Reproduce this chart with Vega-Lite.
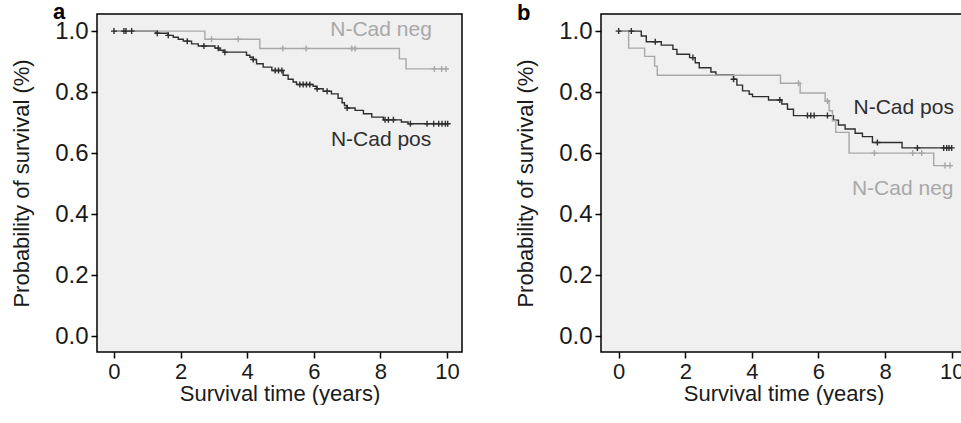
{
  "$schema": "https://vega.github.io/schema/vega-lite/v6.json",
  "padding": {"left": 9, "top": 0, "right": 0, "bottom": 0},
  "spacing": 50,
  "config": {
    "font": "Liberation Sans",
    "view": {"fill": "#f0f0f0", "stroke": "#000000", "strokeWidth": 1.5},
    "axis": {
      "domain": false, "grid": false, "tickColor": "#000000", "tickSize": 6, "tickWidth": 1.5,
      "labelFont": "Liberation Sans", "labelFontSize": 22, "labelColor": "#1a1a1a", "labelPadding": 3,
      "titleFont": "Liberation Sans", "titleFontSize": 22, "titleFontWeight": "normal", "titleColor": "#1a1a1a"
    },
    "axisY": {"labelFontSize": 24, "titlePadding": 21},
    "axisX": {"titlePadding": 1}
  },
  "datasets": {
    "steps": [
      {"panel": "a", "group": "N-Cad pos", "t": 0, "s": 1.0},
      {"panel": "a", "group": "N-Cad pos", "t": 1.26, "s": 0.993},
      {"panel": "a", "group": "N-Cad pos", "t": 1.63, "s": 0.986},
      {"panel": "a", "group": "N-Cad pos", "t": 1.78, "s": 0.980},
      {"panel": "a", "group": "N-Cad pos", "t": 1.93, "s": 0.973},
      {"panel": "a", "group": "N-Cad pos", "t": 2.08, "s": 0.967},
      {"panel": "a", "group": "N-Cad pos", "t": 2.33, "s": 0.958},
      {"panel": "a", "group": "N-Cad pos", "t": 2.53, "s": 0.951},
      {"panel": "a", "group": "N-Cad pos", "t": 3.03, "s": 0.944},
      {"panel": "a", "group": "N-Cad pos", "t": 3.18, "s": 0.937},
      {"panel": "a", "group": "N-Cad pos", "t": 3.3, "s": 0.931},
      {"panel": "a", "group": "N-Cad pos", "t": 3.98, "s": 0.921},
      {"panel": "a", "group": "N-Cad pos", "t": 4.08, "s": 0.914},
      {"panel": "a", "group": "N-Cad pos", "t": 4.18, "s": 0.907},
      {"panel": "a", "group": "N-Cad pos", "t": 4.28, "s": 0.893},
      {"panel": "a", "group": "N-Cad pos", "t": 4.48, "s": 0.882},
      {"panel": "a", "group": "N-Cad pos", "t": 4.74, "s": 0.871},
      {"panel": "a", "group": "N-Cad pos", "t": 5.08, "s": 0.855},
      {"panel": "a", "group": "N-Cad pos", "t": 5.23, "s": 0.842},
      {"panel": "a", "group": "N-Cad pos", "t": 5.38, "s": 0.833},
      {"panel": "a", "group": "N-Cad pos", "t": 5.48, "s": 0.825},
      {"panel": "a", "group": "N-Cad pos", "t": 5.98, "s": 0.819},
      {"panel": "a", "group": "N-Cad pos", "t": 6.08, "s": 0.811},
      {"panel": "a", "group": "N-Cad pos", "t": 6.28, "s": 0.803},
      {"panel": "a", "group": "N-Cad pos", "t": 6.53, "s": 0.794},
      {"panel": "a", "group": "N-Cad pos", "t": 6.73, "s": 0.780},
      {"panel": "a", "group": "N-Cad pos", "t": 6.85, "s": 0.765},
      {"panel": "a", "group": "N-Cad pos", "t": 6.92, "s": 0.756},
      {"panel": "a", "group": "N-Cad pos", "t": 7.0, "s": 0.748},
      {"panel": "a", "group": "N-Cad pos", "t": 7.24, "s": 0.740},
      {"panel": "a", "group": "N-Cad pos", "t": 7.49, "s": 0.729},
      {"panel": "a", "group": "N-Cad pos", "t": 7.74, "s": 0.718},
      {"panel": "a", "group": "N-Cad pos", "t": 8.09, "s": 0.709},
      {"panel": "a", "group": "N-Cad pos", "t": 8.63, "s": 0.702},
      {"panel": "a", "group": "N-Cad pos", "t": 8.83, "s": 0.696},
      {"panel": "a", "group": "N-Cad pos", "t": 10.04, "s": 0.696},
      {"panel": "a", "group": "N-Cad neg", "t": 0, "s": 1.0},
      {"panel": "a", "group": "N-Cad neg", "t": 2.73, "s": 0.973},
      {"panel": "a", "group": "N-Cad neg", "t": 4.38, "s": 0.943},
      {"panel": "a", "group": "N-Cad neg", "t": 8.57, "s": 0.909},
      {"panel": "a", "group": "N-Cad neg", "t": 8.77, "s": 0.876},
      {"panel": "a", "group": "N-Cad neg", "t": 10.04, "s": 0.876},
      {"panel": "b", "group": "N-Cad pos", "t": 0, "s": 1.0},
      {"panel": "b", "group": "N-Cad pos", "t": 0.68, "s": 0.984},
      {"panel": "b", "group": "N-Cad pos", "t": 0.83, "s": 0.965},
      {"panel": "b", "group": "N-Cad pos", "t": 1.28, "s": 0.954},
      {"panel": "b", "group": "N-Cad pos", "t": 1.63, "s": 0.940},
      {"panel": "b", "group": "N-Cad pos", "t": 1.75, "s": 0.924},
      {"panel": "b", "group": "N-Cad pos", "t": 2.13, "s": 0.913},
      {"panel": "b", "group": "N-Cad pos", "t": 2.3, "s": 0.896},
      {"panel": "b", "group": "N-Cad pos", "t": 2.42, "s": 0.880},
      {"panel": "b", "group": "N-Cad pos", "t": 2.77, "s": 0.866},
      {"panel": "b", "group": "N-Cad pos", "t": 2.92, "s": 0.856},
      {"panel": "b", "group": "N-Cad pos", "t": 3.45, "s": 0.842},
      {"panel": "b", "group": "N-Cad pos", "t": 3.55, "s": 0.823},
      {"panel": "b", "group": "N-Cad pos", "t": 3.72, "s": 0.804},
      {"panel": "b", "group": "N-Cad pos", "t": 3.92, "s": 0.793},
      {"panel": "b", "group": "N-Cad pos", "t": 4.02, "s": 0.785},
      {"panel": "b", "group": "N-Cad pos", "t": 4.5, "s": 0.774},
      {"panel": "b", "group": "N-Cad pos", "t": 4.9, "s": 0.761},
      {"panel": "b", "group": "N-Cad pos", "t": 5.07, "s": 0.744},
      {"panel": "b", "group": "N-Cad pos", "t": 5.25, "s": 0.723},
      {"panel": "b", "group": "N-Cad pos", "t": 6.45, "s": 0.708},
      {"panel": "b", "group": "N-Cad pos", "t": 6.6, "s": 0.692},
      {"panel": "b", "group": "N-Cad pos", "t": 6.8, "s": 0.679},
      {"panel": "b", "group": "N-Cad pos", "t": 7.1, "s": 0.665},
      {"panel": "b", "group": "N-Cad pos", "t": 7.32, "s": 0.654},
      {"panel": "b", "group": "N-Cad pos", "t": 7.62, "s": 0.635},
      {"panel": "b", "group": "N-Cad pos", "t": 8.51, "s": 0.617},
      {"panel": "b", "group": "N-Cad pos", "t": 10.0, "s": 0.617},
      {"panel": "b", "group": "N-Cad neg", "t": 0, "s": 1.0},
      {"panel": "b", "group": "N-Cad neg", "t": 0.30, "s": 0.944},
      {"panel": "b", "group": "N-Cad neg", "t": 0.78, "s": 0.917},
      {"panel": "b", "group": "N-Cad neg", "t": 1.08, "s": 0.885},
      {"panel": "b", "group": "N-Cad neg", "t": 1.16, "s": 0.855},
      {"panel": "b", "group": "N-Cad neg", "t": 4.86, "s": 0.829},
      {"panel": "b", "group": "N-Cad neg", "t": 5.45, "s": 0.797},
      {"panel": "b", "group": "N-Cad neg", "t": 6.2, "s": 0.771},
      {"panel": "b", "group": "N-Cad neg", "t": 6.32, "s": 0.739},
      {"panel": "b", "group": "N-Cad neg", "t": 6.42, "s": 0.706},
      {"panel": "b", "group": "N-Cad neg", "t": 6.52, "s": 0.668},
      {"panel": "b", "group": "N-Cad neg", "t": 6.92, "s": 0.600},
      {"panel": "b", "group": "N-Cad neg", "t": 9.46, "s": 0.559},
      {"panel": "b", "group": "N-Cad neg", "t": 10.01, "s": 0.559}
    ],
    "censors": [
      {"panel": "a", "group": "N-Cad pos", "t": 0, "s": 1.0},
      {"panel": "a", "group": "N-Cad pos", "t": 0.3, "s": 1.0},
      {"panel": "a", "group": "N-Cad pos", "t": 0.36, "s": 1.0},
      {"panel": "a", "group": "N-Cad pos", "t": 0.53, "s": 1.0},
      {"panel": "a", "group": "N-Cad pos", "t": 1.3, "s": 0.993},
      {"panel": "a", "group": "N-Cad pos", "t": 1.63, "s": 0.986},
      {"panel": "a", "group": "N-Cad pos", "t": 2.2, "s": 0.967},
      {"panel": "a", "group": "N-Cad pos", "t": 2.7, "s": 0.951},
      {"panel": "a", "group": "N-Cad pos", "t": 3.13, "s": 0.944},
      {"panel": "a", "group": "N-Cad pos", "t": 3.33, "s": 0.931},
      {"panel": "a", "group": "N-Cad pos", "t": 4.18, "s": 0.907},
      {"panel": "a", "group": "N-Cad pos", "t": 4.84, "s": 0.871},
      {"panel": "a", "group": "N-Cad pos", "t": 4.94, "s": 0.871},
      {"panel": "a", "group": "N-Cad pos", "t": 5.04, "s": 0.871},
      {"panel": "a", "group": "N-Cad pos", "t": 5.58, "s": 0.825},
      {"panel": "a", "group": "N-Cad pos", "t": 5.68, "s": 0.825},
      {"panel": "a", "group": "N-Cad pos", "t": 5.78, "s": 0.825},
      {"panel": "a", "group": "N-Cad pos", "t": 5.88, "s": 0.825},
      {"panel": "a", "group": "N-Cad pos", "t": 6.1, "s": 0.811},
      {"panel": "a", "group": "N-Cad pos", "t": 6.4, "s": 0.803},
      {"panel": "a", "group": "N-Cad pos", "t": 7.0, "s": 0.748},
      {"panel": "a", "group": "N-Cad pos", "t": 8.14, "s": 0.709},
      {"panel": "a", "group": "N-Cad pos", "t": 8.24, "s": 0.709},
      {"panel": "a", "group": "N-Cad pos", "t": 8.39, "s": 0.709},
      {"panel": "a", "group": "N-Cad pos", "t": 8.9, "s": 0.696},
      {"panel": "a", "group": "N-Cad pos", "t": 9.4, "s": 0.696},
      {"panel": "a", "group": "N-Cad pos", "t": 9.6, "s": 0.696},
      {"panel": "a", "group": "N-Cad pos", "t": 9.75, "s": 0.696},
      {"panel": "a", "group": "N-Cad pos", "t": 9.85, "s": 0.696},
      {"panel": "a", "group": "N-Cad pos", "t": 9.95, "s": 0.696},
      {"panel": "a", "group": "N-Cad pos", "t": 10.02, "s": 0.696},
      {"panel": "a", "group": "N-Cad neg", "t": 2.93, "s": 0.973},
      {"panel": "a", "group": "N-Cad neg", "t": 3.73, "s": 0.973},
      {"panel": "a", "group": "N-Cad neg", "t": 5.07, "s": 0.943},
      {"panel": "a", "group": "N-Cad neg", "t": 5.77, "s": 0.943},
      {"panel": "a", "group": "N-Cad neg", "t": 7.14, "s": 0.943},
      {"panel": "a", "group": "N-Cad neg", "t": 7.24, "s": 0.943},
      {"panel": "a", "group": "N-Cad neg", "t": 9.62, "s": 0.876},
      {"panel": "a", "group": "N-Cad neg", "t": 9.84, "s": 0.876},
      {"panel": "a", "group": "N-Cad neg", "t": 9.97, "s": 0.876},
      {"panel": "b", "group": "N-Cad pos", "t": 0, "s": 1.0},
      {"panel": "b", "group": "N-Cad pos", "t": 0.38, "s": 1.0},
      {"panel": "b", "group": "N-Cad pos", "t": 1.1, "s": 0.965},
      {"panel": "b", "group": "N-Cad pos", "t": 2.23, "s": 0.913},
      {"panel": "b", "group": "N-Cad pos", "t": 3.45, "s": 0.842},
      {"panel": "b", "group": "N-Cad pos", "t": 4.84, "s": 0.774},
      {"panel": "b", "group": "N-Cad pos", "t": 5.67, "s": 0.723},
      {"panel": "b", "group": "N-Cad pos", "t": 5.77, "s": 0.723},
      {"panel": "b", "group": "N-Cad pos", "t": 5.87, "s": 0.723},
      {"panel": "b", "group": "N-Cad pos", "t": 6.27, "s": 0.723},
      {"panel": "b", "group": "N-Cad pos", "t": 7.77, "s": 0.635},
      {"panel": "b", "group": "N-Cad pos", "t": 8.97, "s": 0.617},
      {"panel": "b", "group": "N-Cad pos", "t": 9.76, "s": 0.617},
      {"panel": "b", "group": "N-Cad pos", "t": 9.85, "s": 0.617},
      {"panel": "b", "group": "N-Cad pos", "t": 9.92, "s": 0.617},
      {"panel": "b", "group": "N-Cad pos", "t": 10.0, "s": 0.617},
      {"panel": "b", "group": "N-Cad neg", "t": 5.4, "s": 0.829},
      {"panel": "b", "group": "N-Cad neg", "t": 6.27, "s": 0.771},
      {"panel": "b", "group": "N-Cad neg", "t": 7.68, "s": 0.600},
      {"panel": "b", "group": "N-Cad neg", "t": 8.83, "s": 0.600},
      {"panel": "b", "group": "N-Cad neg", "t": 9.1, "s": 0.600},
      {"panel": "b", "group": "N-Cad neg", "t": 9.8, "s": 0.559},
      {"panel": "b", "group": "N-Cad neg", "t": 9.95, "s": 0.559}
    ],
    "labels": [
      {"panel": "a", "group": "N-Cad neg", "t": 8.02, "s": 0.984},
      {"panel": "a", "group": "N-Cad pos", "t": 8.02, "s": 0.623},
      {"panel": "b", "group": "N-Cad pos", "t": 8.56, "s": 0.729},
      {"panel": "b", "group": "N-Cad neg", "t": 8.53, "s": 0.464}
    ],
    "panelLetters": [
      {"panel": "a", "letter": "a", "t": -1.83, "s": 1.038},
      {"panel": "b", "letter": "b", "t": -3.05, "s": 1.035}
    ]
  },
  "hconcat": [
    {
      "width": 365,
      "height": 338,
      "layer": [
        {
          "data": {"name": "steps"},
          "transform": [{"filter": "datum.panel === 'a'"}],
          "mark": {"type": "line", "interpolate": "step-after", "strokeWidth": 1.4},
          "encoding": {
            "x": {"field": "t", "type": "quantitative", "scale": {"domain": [-0.51, 10.45], "nice": false, "zero": false}, "axis": {"values": [0, 2, 4, 6, 8, 10], "title": "Survival time (years)"}},
            "y": {"field": "s", "type": "quantitative", "scale": {"domain": [-0.052, 1.056], "nice": false, "zero": false}, "axis": {"values": [0, 0.2, 0.4, 0.6, 0.8, 1.0], "format": ".1f", "title": "Probability of survival (%)"}},
            "color": {"field": "group", "type": "nominal", "scale": {"domain": ["N-Cad pos", "N-Cad neg"], "range": ["#2e2e2e", "#a8a8a8"]}, "legend": null}
          }
        },
        {
          "data": {"name": "censors"},
          "transform": [{"filter": "datum.panel === 'a'"}],
          "mark": {"type": "point", "shape": "M-1,0L1,0M0,-1L0,1", "filled": false, "strokeWidth": 1.4, "size": 36, "opacity": 1},
          "encoding": {
            "x": {"field": "t", "type": "quantitative"},
            "y": {"field": "s", "type": "quantitative"},
            "color": {"field": "group", "type": "nominal", "legend": null}
          }
        },
        {
          "data": {"name": "labels"},
          "transform": [{"filter": "datum.panel === 'a'"}],
          "mark": {"type": "text", "align": "center", "baseline": "alphabetic", "fontSize": 21, "font": "Liberation Sans"},
          "encoding": {
            "x": {"field": "t", "type": "quantitative"},
            "y": {"field": "s", "type": "quantitative"},
            "text": {"field": "group"},
            "color": {"field": "group", "type": "nominal", "legend": null}
          }
        },
        {
          "data": {"name": "panelLetters"},
          "transform": [{"filter": "datum.panel === 'a'"}],
          "mark": {"type": "text", "align": "left", "baseline": "alphabetic", "fontSize": 22, "fontWeight": "bold", "font": "Liberation Sans", "color": "#000000", "clip": false},
          "encoding": {
            "x": {"field": "t", "type": "quantitative"},
            "y": {"field": "s", "type": "quantitative"},
            "text": {"field": "letter"}
          }
        }
      ]
    },
    {
      "width": 365,
      "height": 338,
      "layer": [
        {
          "data": {"name": "steps"},
          "transform": [{"filter": "datum.panel === 'b'"}],
          "mark": {"type": "line", "interpolate": "step-after", "strokeWidth": 1.4},
          "encoding": {
            "x": {"field": "t", "type": "quantitative", "scale": {"domain": [-0.53, 10.43], "nice": false, "zero": false}, "axis": {"values": [0, 2, 4, 6, 8, 10], "title": "Survival time (years)"}},
            "y": {"field": "s", "type": "quantitative", "scale": {"domain": [-0.052, 1.056], "nice": false, "zero": false}, "axis": {"values": [0, 0.2, 0.4, 0.6, 0.8, 1.0], "format": ".1f", "title": "Probability of survival (%)"}},
            "color": {"field": "group", "type": "nominal", "scale": {"domain": ["N-Cad pos", "N-Cad neg"], "range": ["#2e2e2e", "#a8a8a8"]}, "legend": null}
          }
        },
        {
          "data": {"name": "censors"},
          "transform": [{"filter": "datum.panel === 'b'"}],
          "mark": {"type": "point", "shape": "M-1,0L1,0M0,-1L0,1", "filled": false, "strokeWidth": 1.4, "size": 36, "opacity": 1},
          "encoding": {
            "x": {"field": "t", "type": "quantitative"},
            "y": {"field": "s", "type": "quantitative"},
            "color": {"field": "group", "type": "nominal", "legend": null}
          }
        },
        {
          "data": {"name": "labels"},
          "transform": [{"filter": "datum.panel === 'b'"}],
          "mark": {"type": "text", "align": "center", "baseline": "alphabetic", "fontSize": 21, "font": "Liberation Sans"},
          "encoding": {
            "x": {"field": "t", "type": "quantitative"},
            "y": {"field": "s", "type": "quantitative"},
            "text": {"field": "group"},
            "color": {"field": "group", "type": "nominal", "legend": null}
          }
        },
        {
          "data": {"name": "panelLetters"},
          "transform": [{"filter": "datum.panel === 'b'"}],
          "mark": {"type": "text", "align": "left", "baseline": "alphabetic", "fontSize": 22, "fontWeight": "bold", "font": "Liberation Sans", "color": "#000000", "clip": false},
          "encoding": {
            "x": {"field": "t", "type": "quantitative"},
            "y": {"field": "s", "type": "quantitative"},
            "text": {"field": "letter"}
          }
        }
      ]
    }
  ]
}
